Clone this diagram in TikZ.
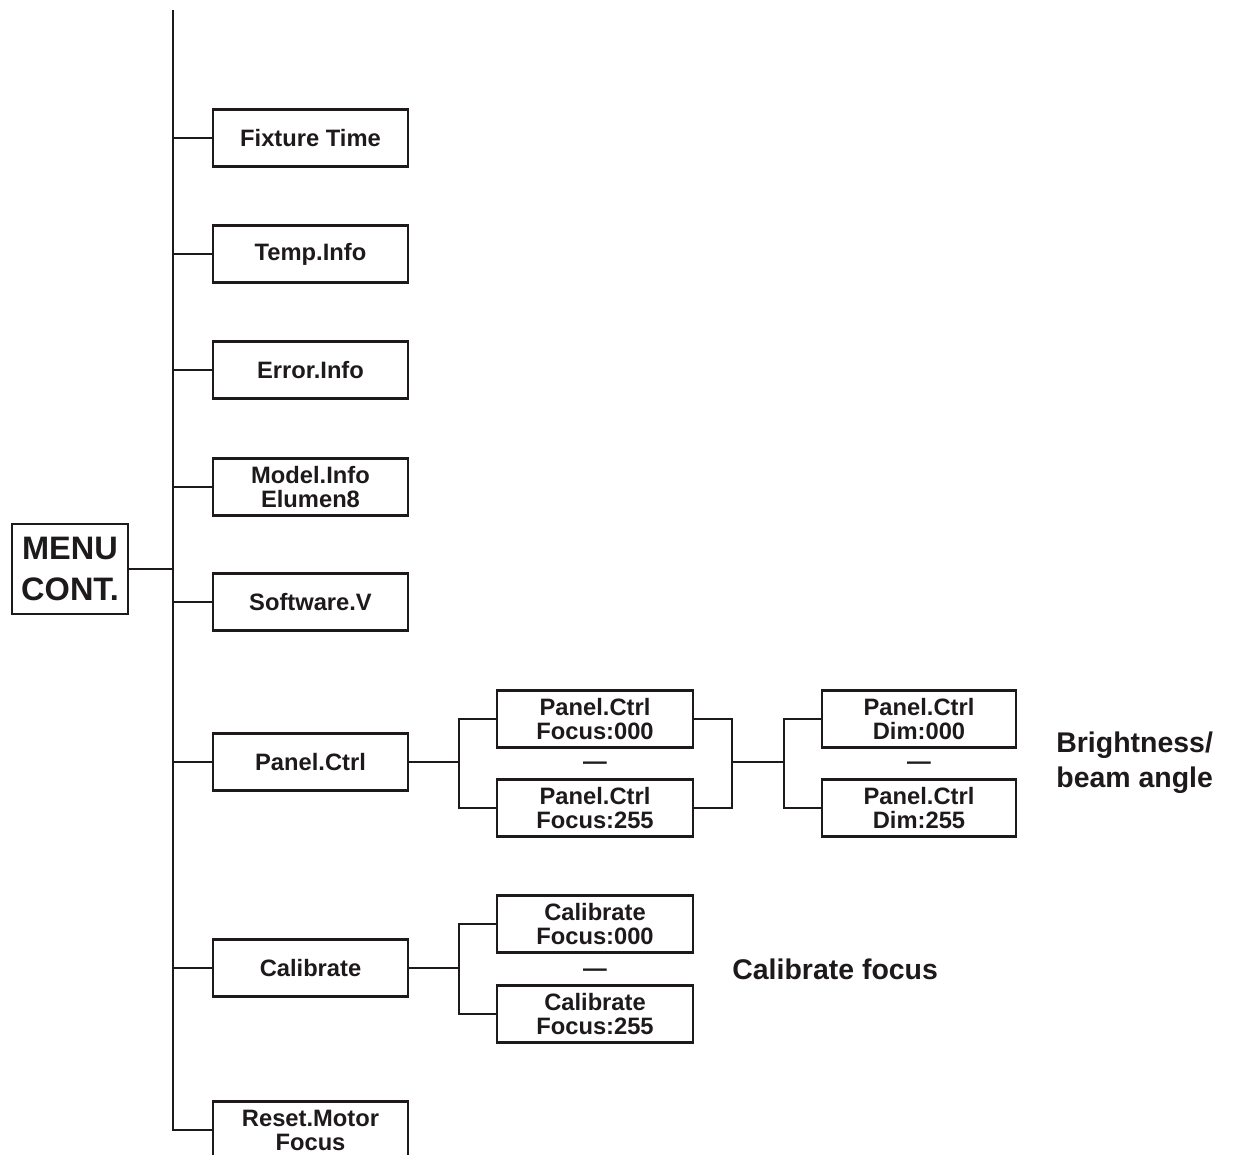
\documentclass[tikz,border=0pt]{standalone}
\usepackage{fontspec}
\setmainfont{Liberation Sans}
\definecolor{ink}{HTML}{1E1A1B}
\tikzset{
  wire/.style={draw=ink, line width=1.3pt},
  menubox/.style={draw=ink, line width=1.3pt, text=ink, minimum width=3.9cm, minimum height=1.14cm,
    inner sep=0pt, align=center, font=\bfseries\fontsize{13.5}{13.6}\selectfont},
  sidenote/.style={anchor=west, inner sep=0pt, align=left, text=ink, font=\bfseries\fontsize{16.2}{19.8}\selectfont},
  gap/.style={inner sep=0pt, text=ink, font=\bfseries\fontsize{13.5}{13.6}\selectfont},
}
\begin{document}
\begin{tikzpicture}[x=0.02cm,y=-0.02cm]
\clip (0,0) rectangle (1238,1154);
% root
\node[draw=ink, line width=1.3pt, text=ink, minimum width=2.32cm, minimum height=1.8cm, inner sep=0pt,
  align=center, font=\bfseries\fontsize{18.5}{23.8}\selectfont] (menu) at (70,569) {MENU\\CONT.};
\coordinate (trunktop) at (173,10);
% main entries
\foreach \y/\n/\t in {138/fix/Fixture Time,254/temp/Temp.Info,370/err/Error.Info,
    487/model/{Model.Info\\Elumen8},602/soft/Software.V,762/panel/Panel.Ctrl,
    968/cal/Calibrate,1130/reset/{Reset.Motor\\Focus}} {
  \node[menubox] (\n) at (310.5,\y) {\t};
}
\draw[wire] (trunktop) |- (reset.west);
\draw[wire] (menu.east) -- (trunktop |- menu.east);
\foreach \n in {fix,temp,err,model,soft,panel,cal} {
  \draw[wire] (trunktop |- \n.west) -- (\n.west);
}
% Panel.Ctrl branch
\node[menubox, minimum width=3.92cm] (pf0) at (595,719) {Panel.Ctrl\\Focus:000};
\node[gap] (pfgap) at (595,766) {—};
\node[menubox, minimum width=3.92cm] (pf1) at (595,808) {Panel.Ctrl\\Focus:255};
\node[menubox, minimum width=3.88cm] (pd0) at (919,719) {Panel.Ctrl\\Dim:000};
\node[gap] (pdgap) at (919,766) {—};
\node[menubox, minimum width=3.88cm] (pd1) at (919,808) {Panel.Ctrl\\Dim:255};
\coordinate (pj) at (459,762);
\coordinate (pk) at (732,762);
\coordinate (pl) at (784,762);
\draw[wire] (panel.east) -- (pj);
\draw[wire] (pf0.west) -| (pj) |- (pf1.west);
\draw[wire] (pf0.east) -| (pk) |- (pf1.east);
\draw[wire] (pk) -- (pl);
\draw[wire] (pd0.west) -| (pl) |- (pd1.west);
\node[sidenote] (bright) at (1056,763) {Brightness/\\beam angle};
% Calibrate branch
\node[menubox, minimum width=3.92cm] (cf0) at (595,924) {Calibrate\\Focus:000};
\node[gap] (cfgap) at (595,973) {—};
\node[menubox, minimum width=3.92cm] (cf1) at (595,1014) {Calibrate\\Focus:255};
\coordinate (cj) at (459,968);
\draw[wire] (cal.east) -- (cj);
\draw[wire] (cf0.west) -| (cj) |- (cf1.west);
\node[sidenote] (calnote) at (732,969) {Calibrate focus};
\end{tikzpicture}
\end{document}
